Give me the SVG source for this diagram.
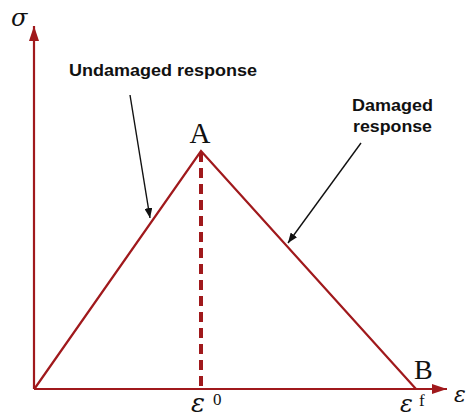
<svg xmlns="http://www.w3.org/2000/svg" width="471" height="417" viewBox="0 0 471 417">
<style>
.ax{stroke:#a0191c;stroke-width:2.2;fill:none}
.curve{stroke:#a0191c;stroke-width:2.2;fill:none;stroke-linejoin:miter}
.dash{stroke:#a0191c;stroke-width:4;stroke-dasharray:10 6;fill:none}
.ptr{stroke:#111;stroke-width:1.4;fill:none}
.lbl{font-family:"Liberation Sans",Arial,sans-serif;font-weight:bold;font-size:16.5px;fill:#111}
.serif{font-family:"Liberation Serif","Times New Roman",serif;fill:#111}
.greek{font-family:"DejaVu Serif",serif;font-style:italic;fill:#111}
</style>
<defs>
<marker id="ah" markerWidth="15" markerHeight="10" refX="15" refY="5" orient="auto" markerUnits="userSpaceOnUse">
<path d="M0,0 L15,5 L0,10 Z" fill="#a0191c"/>
</marker>
<marker id="bh" markerWidth="10" markerHeight="8" refX="10" refY="4" orient="auto" markerUnits="userSpaceOnUse">
<path d="M0,0 L10,4 L0,8 Z" fill="#111"/>
</marker>
</defs>
<rect width="471" height="417" fill="#fff"/>
<g id="connectors">
<line class="ax" x1="34" y1="389" x2="34" y2="26" marker-end="url(#ah)"/>
<line class="ax" x1="34" y1="389" x2="447" y2="389" marker-end="url(#ah)"/>
<polyline class="curve" points="35,388 201,151 416,389"/>
<line class="dash" x1="201" y1="152" x2="201" y2="389"/>
<line class="ptr" x1="130" y1="95" x2="150" y2="218" marker-end="url(#bh)"/>
<line class="ptr" x1="361" y1="143" x2="288" y2="243" marker-end="url(#bh)"/>
</g>
<g id="sigma"><text class="greek" x="11" y="26" font-size="24">σ</text></g>
<g id="epsilon"><text class="greek" x="454" y="402" font-size="22">ε</text></g>
<g id="undamaged"><text class="lbl" x="69" y="76" textLength="188" lengthAdjust="spacingAndGlyphs">Undamaged response</text></g>
<g id="damaged"><text class="lbl" x="352" y="111" textLength="81" lengthAdjust="spacingAndGlyphs">Damaged</text><text class="lbl" x="353" y="132" textLength="79" lengthAdjust="spacingAndGlyphs">response</text></g>
<g id="A"><text class="serif" x="200" y="143" font-size="29" text-anchor="middle">A</text></g>
<g id="B"><text class="serif" x="414" y="379" font-size="28">B</text></g>
<g id="eps0"><text class="greek" x="191" y="412" font-size="26">ε</text><text class="serif" x="213" y="405" font-size="17">0</text></g>
<g id="epsf"><text class="greek" x="400" y="412" font-size="24">ε</text><text class="serif" x="419" y="406" font-size="17">f</text></g>
</svg>
